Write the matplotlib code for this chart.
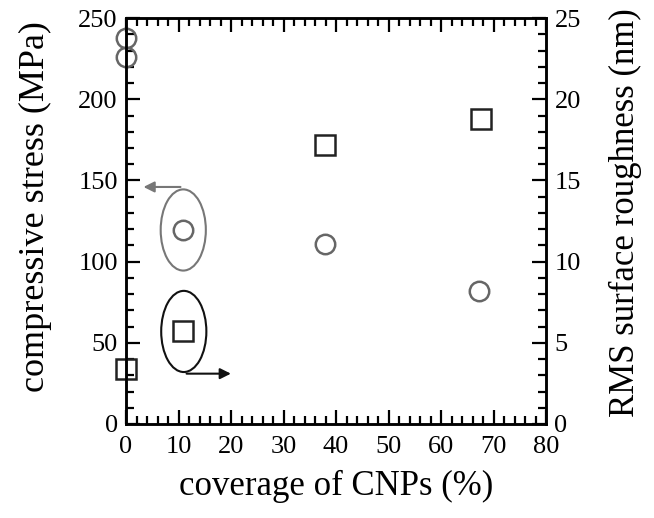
import matplotlib
matplotlib.use('Agg')
import matplotlib.pyplot as plt
from matplotlib.patches import Ellipse
from matplotlib.ticker import MultipleLocator

plt.rcParams['font.family'] = 'Liberation Serif'

# compressive stress (left axis, circles)
stress_x = [0, 0, 10.8, 37.8, 67.3]
stress_y = [238, 226, 119.5, 111, 82]
# RMS roughness (right axis, squares)
rms_x = [0, 10.9, 37.9, 67.6]
rms_y = [3.4, 5.7, 17.2, 18.8]

fig = plt.figure(figsize=(6.54, 5.18), dpi=100)
ax = fig.add_axes([0.1927, 0.1815, 0.6423, 0.7835])
ax2 = ax.twinx()

ax.plot(stress_x, stress_y, 'o', ms=14, mfc='none', mec='#666666', mew=1.8, clip_on=False)
ax2.plot(rms_x, rms_y, 's', ms=14, mfc='none', mec='#222222', mew=1.8, clip_on=False)

ax.set_xlim(0, 80)
ax.set_ylim(0, 250)
ax2.set_ylim(0, 25)

ax.xaxis.set_major_locator(MultipleLocator(10))
ax.xaxis.set_minor_locator(MultipleLocator(2))
ax.yaxis.set_major_locator(MultipleLocator(50))
ax.yaxis.set_minor_locator(MultipleLocator(10))
ax2.yaxis.set_major_locator(MultipleLocator(5))
ax2.yaxis.set_minor_locator(MultipleLocator(1))

for a in (ax, ax2):
    a.tick_params(which='major', direction='in', length=10, width=1.6, labelsize=19, pad=6)
    a.tick_params(which='minor', direction='in', length=5.5, width=1.6)
    for s in a.spines.values():
        s.set_linewidth(1.8)
ax.tick_params(axis='x', which='both', top=True)
ax.tick_params(axis='x', pad=9)

ax.set_xlabel('coverage of CNPs (%)', fontsize=25, labelpad=8)
ax.set_ylabel('compressive stress (MPa)', fontsize=26)
ax2.set_ylabel('RMS surface roughness (nm)', fontsize=25)
ax.yaxis.set_label_coords(-0.176, 0.535)
ax2.yaxis.set_label_coords(1.15, 0.52)

# annotation ellipses with arrows pointing to the axes
ax.add_patch(Ellipse((10.9, 119.5), 8.6, 50, fill=False, ec='#777777', lw=1.5))
ax.annotate('', xy=(2.8, 146), xytext=(10.9, 146),
            arrowprops=dict(arrowstyle='-|>', color='#777777', lw=1.5, mutation_scale=16))
ax.add_patch(Ellipse((11.0, 57), 8.6, 50, fill=False, ec='#111111', lw=1.5))
ax.annotate('', xy=(20.5, 31), xytext=(11.0, 31),
            arrowprops=dict(arrowstyle='-|>', color='#111111', lw=1.5, mutation_scale=16))

fig.savefig('out.png', dpi=100)
